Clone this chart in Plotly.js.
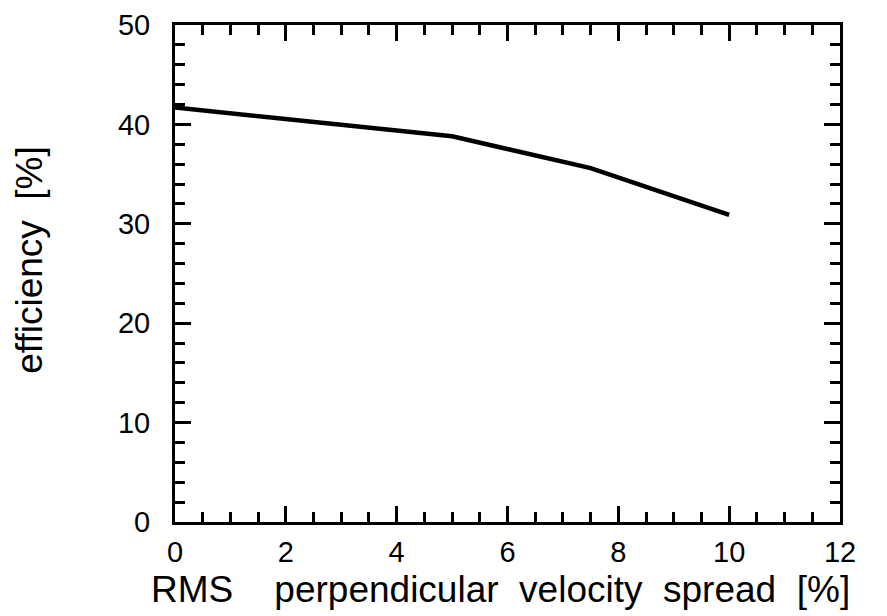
<!DOCTYPE html>
<html><head><meta charset="utf-8">
<script src="https://cdn.plot.ly/plotly-3.0.1.min.js"></script>
<style>body{margin:0;background:#fff}#c{width:887px;height:616px}</style>
</head><body><div id="c"></div>
<script>
var spread = [0, 2.5, 5, 7.5, 10];
var efficiency = [41.7, 40.3, 38.8, 35.6, 30.9];
var xTicks = [0, 2, 4, 6, 8, 10, 12];
var yTicks = [0, 10, 20, 30, 40, 50];
var xTitle = 'RMS    perpendicular  velocity  spread  [%]';
var yTitle = 'efficiency  [%]';

var FONT = 'Liberation Sans, Arial, Helvetica, sans-serif';
var axisCommon = {
  showgrid: false, zeroline: false, showline: true, linecolor: '#000', linewidth: 3,
  mirror: 'allticks', ticks: 'inside', tickcolor: '#000', tickwidth: 3,
  tickfont: {family: FONT, size: 29, color: '#000'}
};
var layout = {
  width: 887, height: 616,
  margin: {l: 175, r: 47, t: 25, b: 94},
  paper_bgcolor: '#fff', plot_bgcolor: '#fff',
  showlegend: false,
  xaxis: Object.assign({}, axisCommon, {
    range: [0, 12], tickvals: xTicks, ticklen: 16, ticklabelstandoff: 2,
    minor: {dtick: 0.5, ticks: 'inside', ticklen: 10, tickwidth: 3, tickcolor: '#000', showgrid: false}
  }),
  yaxis: Object.assign({}, axisCommon, {
    range: [0, 50], tickvals: yTicks, ticklen: 16, ticklabelstandoff: 16,
    minor: {dtick: 2, ticks: 'inside', ticklen: 10, tickwidth: 3, tickcolor: '#000', showgrid: false}
  }),
  annotations: [
    {text: xTitle, xref: 'paper', yref: 'paper', x: 0.49, y: -0.1368,
     xanchor: 'center', yanchor: 'middle', showarrow: false,
     font: {family: FONT, size: 37, color: '#000'}},
    {text: yTitle, xref: 'paper', yref: 'paper', x: -0.22, y: 0.527, textangle: -90,
     xanchor: 'center', yanchor: 'middle', showarrow: false,
     font: {family: FONT, size: 37, color: '#000'}}
  ]
};
Plotly.newPlot('c', [{
  x: spread, y: efficiency, mode: 'lines', type: 'scatter',
  line: {color: '#000', width: 4.5}
}], layout, {displayModeBar: false});
</script></body></html>
